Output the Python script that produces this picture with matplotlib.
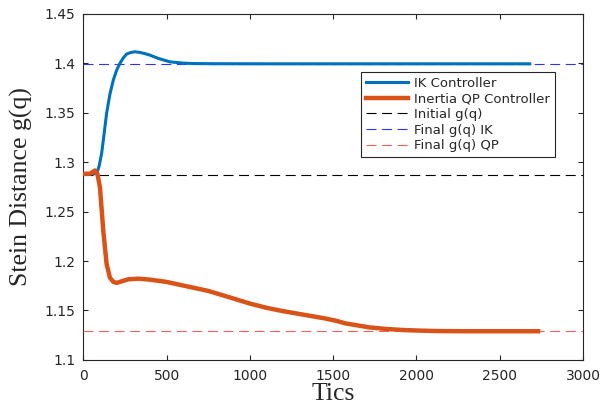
import matplotlib
matplotlib.use("Agg")
import matplotlib.pyplot as plt
from matplotlib.ticker import FuncFormatter, MultipleLocator

# IK controller trace (tics, g(q))
ik_t = [0, 40, 80, 95, 110, 125, 140, 160, 180, 200, 220, 240, 260, 285, 310, 340, 370, 400, 450,
        520, 600, 660, 800, 1200, 1600, 2000, 2400, 2680]
ik_g = [1.2882, 1.2882, 1.2884, 1.2960, 1.3088, 1.3290, 1.3495, 1.3690, 1.3830, 1.3930, 1.4000,
        1.4055, 1.4094, 1.4110, 1.4117, 1.4110, 1.4098, 1.4083, 1.4050, 1.4015, 1.4002, 1.3998,
        1.3996, 1.3995, 1.3995, 1.3995, 1.3995, 1.3995]

# Inertia QP controller trace
qp_t = [0, 40, 70, 85, 100, 120, 140, 160, 180, 200, 230, 270, 330, 400, 500, 620, 750, 880, 1000,
        1100, 1200, 1320, 1450, 1520, 1572, 1650, 1717, 1820, 1923, 2030, 2129, 2300, 2500, 2730]
qp_g = [1.2882, 1.2884, 1.2916, 1.2880, 1.2746, 1.2306, 1.1970, 1.1831, 1.1790, 1.1779, 1.1795,
        1.1815, 1.1822, 1.1812, 1.1789, 1.1745, 1.1698, 1.1632, 1.1570, 1.1527, 1.1493, 1.1458,
        1.1420, 1.1395, 1.1370, 1.1348, 1.1329, 1.1313, 1.1302, 1.1296, 1.1292, 1.1290, 1.1290, 1.1290]

initial_g = 1.2875
final_ik = 1.3995
final_qp = 1.1288

x_range = [0, 3000]
y_ticks = [1.1, 1.15, 1.2, 1.25, 1.3, 1.35, 1.4, 1.45]

gray = "#262626"
fig = plt.figure(figsize=(6.08, 4.09), dpi=100)
ax = fig.add_axes([0.137, 0.12, 0.822, 0.846])

ax.plot(ik_t, ik_g, color="#0072BD", lw=2.2, label="IK Controller", zorder=4)
ax.plot(qp_t, qp_g, color="#D95319", lw=3.2, label="Inertia QP Controller", zorder=4)
dash = (0, (9, 5))
ax.plot(x_range, [initial_g] * 2, color="black", lw=0.8, ls=dash, label="Initial g(q)", zorder=3)
ax.plot(x_range, [final_ik] * 2, color="#3333FF", lw=0.8, ls=dash, label="Final g(q) IK", zorder=3)
ax.plot(x_range, [final_qp] * 2, color="#FF5C5C", lw=0.8, ls=dash, label="Final g(q) QP", zorder=3)

ax.set_xlim(0, 3000)
ax.set_ylim(1.1, 1.45)
ax.xaxis.set_major_locator(MultipleLocator(500))
ax.set_yticks(y_ticks)
ax.yaxis.set_major_formatter(FuncFormatter(lambda v, p: "%g" % round(v, 2)))
ax.tick_params(direction="in", top=True, right=True, length=3.5, width=0.8,
               colors=gray, labelsize=10, labelcolor=gray)
ax.tick_params(axis="y", pad=5.5)
ax.tick_params(axis="x", pad=6.5)
for s in ax.spines.values():
    s.set_color(gray)
    s.set_linewidth(0.8)

ax.set_xlabel("Tics", family="Liberation Serif", fontsize=18.5, color=gray, labelpad=0)
ax.set_ylabel("Stein Distance g(q)", family="Liberation Serif", fontsize=18.5, color=gray)
ax.yaxis.set_label_coords(-0.1, 0.5)

leg = ax.legend(loc="upper right", bbox_to_anchor=(0.943, 0.8315), borderaxespad=0,
                fontsize=9.5, handlelength=3.2, handletextpad=0.45, labelspacing=0.2,
                borderpad=0.35, fancybox=False, framealpha=1, edgecolor=gray)
leg.get_frame().set_linewidth(0.8)
for t in leg.get_texts():
    t.set_color(gray)

fig.savefig("out.png", dpi=100)
